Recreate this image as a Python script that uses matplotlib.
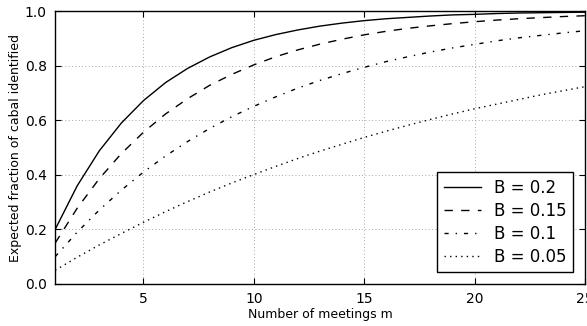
import numpy as np
import matplotlib
matplotlib.use("Agg")
import matplotlib.pyplot as plt

# number of meetings
meetings = list(range(1, 26))

# expected fraction identified
frac_b020 = [0.200, 0.360, 0.488, 0.590, 0.672, 0.738, 0.790, 0.832, 0.866, 0.893,
             0.914, 0.931, 0.945, 0.956, 0.965, 0.972, 0.977, 0.982, 0.986, 0.988,
             0.991, 0.993, 0.994, 0.995, 0.996]
frac_b015 = [0.150, 0.278, 0.386, 0.478, 0.556, 0.623, 0.679, 0.728, 0.768, 0.803,
             0.833, 0.858, 0.879, 0.897, 0.913, 0.926, 0.937, 0.946, 0.954, 0.961,
             0.967, 0.972, 0.976, 0.980, 0.983]
frac_b010 = [0.100, 0.190, 0.271, 0.344, 0.410, 0.469, 0.522, 0.570, 0.613, 0.651,
             0.686, 0.718, 0.746, 0.771, 0.794, 0.815, 0.833, 0.850, 0.865, 0.878,
             0.891, 0.902, 0.911, 0.920, 0.928]
frac_b005 = [0.050, 0.098, 0.143, 0.185, 0.226, 0.265, 0.302, 0.337, 0.370, 0.401,
             0.431, 0.460, 0.487, 0.512, 0.537, 0.560, 0.582, 0.603, 0.623, 0.642,
             0.659, 0.676, 0.693, 0.708, 0.723]

labels = ["B = 0.2", "B = 0.15", "B = 0.1", "B = 0.05"]
# old-style matplotlib dash patterns
styles = ["-", (0, (6, 6)), (0, (3, 5, 1, 5)), (0, (1, 3))]

fig = plt.figure(figsize=(5.87, 3.26), dpi=100)
ax = fig.add_axes([0.094, 0.129, 0.9026, 0.837])

for ys, lab, ls in zip([frac_b020, frac_b015, frac_b010, frac_b005], labels, styles):
    ax.plot(meetings, ys, color="black", linestyle=ls, linewidth=1.0, label=lab)

ax.set_xlim(1, 25)
ax.set_ylim(0, 1.0)
ax.set_xticks([5, 10, 15, 20, 25])
ax.set_yticks(np.arange(0, 1.01, 0.2))
ax.set_yticklabels(["0.0", "0.2", "0.4", "0.6", "0.8", "1.0"])
ax.grid(True, color="#888888", linestyle=(0, (1, 3)), linewidth=0.6)
ax.tick_params(direction="in", top=True, right=True, length=4, labelsize=10, pad=6)
for sp in ax.spines.values():
    sp.set_linewidth(1.0)

ax.set_xlabel("Number of meetings m", fontsize=9, labelpad=1)
ax.set_ylabel("Expected fraction of cabal identified", fontsize=9, labelpad=2)

leg = ax.legend(loc="lower right", fontsize=12, fancybox=False, framealpha=1,
                edgecolor="black", handlelength=2.2, borderpad=0.4, labelspacing=0.3,
                borderaxespad=0.7)
leg.get_frame().set_linewidth(1.0)

fig.savefig("out.png", dpi=100)
